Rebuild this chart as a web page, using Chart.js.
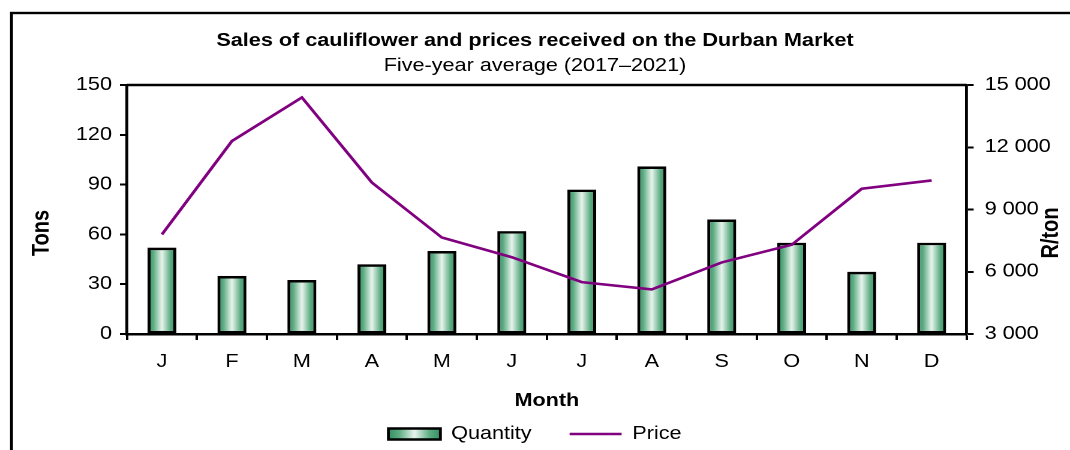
<!DOCTYPE html>
<html>
<head>
<meta charset="utf-8">
<script src="https://cdn.jsdelivr.net/npm/chart.js@4.4.0/dist/chart.umd.min.js"></script>
<style>
  html, body { margin: 0; padding: 0; background: #fff; overflow: hidden; }
</style>
</head>
<body>
<canvas id="grafico"></canvas>
<script>
// Datos (promedio de cinco años, 2017-2021)
const months = ['J', 'F', 'M', 'A', 'M', 'J', 'J', 'A', 'S', 'O', 'N', 'D'];
const quantity = [52, 35, 32.5, 42, 50, 62, 87, 101, 69, 55, 37.5, 55];
const price = [7800, 12300, 14400, 10300, 7650, 6700, 5500, 5150, 6450, 7300, 10000, 10400];
const tonsTicks = [0, 30, 60, 90, 120, 150];
const priceTicks = [3000, 6000, 9000, 12000, 15000];

// el original está estirado en horizontal, así que se dibuja más estrecho y se estira con CSS
const S = 1.2;
const W = Math.round(1070 / S);
const px = v => v / S;

const VERDE = '#378f63';
const MEDIO = '#5aab81';
const CLARO = '#e8f4ed';
const MORADO = '#800080';
const BAR_PCT = 0.414;
const LEG_FONT = 18;
const LEG_PAD = px(38);
const PAD_BOTTOM = 440 - 434 - LEG_FONT / 2;
const LEG_H = LEG_FONT + LEG_PAD + 10;
const X_HEIGHT = 450 - PAD_BOTTOM - LEG_H - 334;

Chart.defaults.font.family = '"Liberation Sans", Arial, sans-serif';
Chart.defaults.color = '#000';

function gradiente(c, x0, x1) {
    const g = c.createLinearGradient(x0, 0, x1, 0);
    g.addColorStop(0, VERDE);
    g.addColorStop(0.2, MEDIO);
    g.addColorStop(0.5, CLARO);
    g.addColorStop(0.8, MEDIO);
    g.addColorStop(1, VERDE);
    return g;
}

function rellenoBarra(context) {
    const chart = context.chart;
    const xs = chart.scales.x;
    if (context.type !== 'data' || !xs || !chart.chartArea) return VERDE;
    const cx = xs.getPixelForValue(context.dataIndex);
    const half = xs.width / months.length * BAR_PCT / 2;
    return gradiente(chart.ctx, cx - half, cx + half);
}

function formato(v) {
    return String(v).replace(/\B(?=(\d{3})+(?!\d))/g, ' ');
}

const marco = {
    id: 'marco',
    beforeDraw(chart) {
        const ctx = chart.ctx;
        ctx.save();
        ctx.fillStyle = '#fff';
        ctx.fillRect(0, 0, chart.width, chart.height);
        ctx.strokeStyle = '#000';
        ctx.lineWidth = 2.4;
        ctx.strokeRect(px(11.5), 13, chart.width + 40, chart.height + 40);
        ctx.restore();

        // la caja de la leyenda también lleva el degradado
        const lg = chart.legend;
        if (lg && lg.legendItems && lg.legendHitBoxes) {
            lg.legendItems.forEach((item, i) => {
                if (item.text === 'Quantity' && lg.legendHitBoxes[i]) {
                    const hb = lg.legendHitBoxes[i];
                    item.fillStyle = gradiente(ctx, hb.left, hb.left + px(52));
                }
            });
        }
    },
    afterDraw(chart) {
        const {ctx, chartArea} = chart;
        ctx.save();
        // borde superior del área del gráfico
        ctx.strokeStyle = '#000';
        ctx.lineWidth = 2.4;
        ctx.beginPath();
        ctx.moveTo(chartArea.left, chartArea.top);
        ctx.lineTo(chartArea.right, chartArea.top);
        ctx.stroke();

        // títulos de los ejes Y (ambos giran hacia arriba)
        ctx.fillStyle = '#000';
        ctx.font = 'bold 20px "Liberation Sans", Arial, sans-serif';
        ctx.textAlign = 'center';
        ctx.textBaseline = 'middle';
        [['Tons', px(42)], ['R/ton', px(1052)]].forEach(([txt, x]) => {
            ctx.save();
            ctx.translate(x, 233);
            ctx.rotate(-Math.PI / 2);
            ctx.fillText(txt, 0, 0);
            ctx.restore();
        });
        ctx.restore();
    }
};

const canvas = document.getElementById('grafico');
canvas.width = W;
canvas.height = 450;
canvas.style.display = 'block';
canvas.style.width = '1070px';
canvas.style.height = '450px';

new Chart(canvas.getContext('2d'), {
    data: {
        labels: months,
        datasets: [
            {
                type: 'bar',
                label: 'Quantity',
                data: quantity,
                yAxisID: 'y',
                backgroundColor: rellenoBarra,
                borderColor: '#000',
                borderWidth: 2.6,
                borderSkipped: false,
                categoryPercentage: 1,
                barPercentage: BAR_PCT,
                order: 1,
            },
            {
                type: 'line',
                label: 'Price',
                data: price,
                yAxisID: 'y1',
                borderColor: MORADO,
                borderWidth: 2.6,
                pointRadius: 0,
                fill: false,
                tension: 0,
                order: 0,
            },
        ],
    },
    options: {
        responsive: false,
        devicePixelRatio: 2,
        animation: false,
        layout: { padding: { left: 0, right: 0, top: 0, bottom: PAD_BOTTOM } },
        plugins: {
            tooltip: { enabled: false },
            title: {
                display: true,
                text: 'Sales of cauliflower and prices received on the Durban Market',
                color: '#000',
                font: { size: 18, weight: 'bold', lineHeight: 1.2 },
                padding: { top: 30.2, bottom: 0 },
            },
            subtitle: {
                display: true,
                text: 'Five-year average (2017\u20132021)',
                color: '#000',
                font: { size: 18, lineHeight: 1.2 },
                padding: { top: 3.4, bottom: 8.2 },
            },
            legend: {
                position: 'bottom',
                labels: {
                    usePointStyle: true,
                    pointStyleWidth: px(52),
                    boxHeight: 11,
                    padding: LEG_PAD,
                    color: '#000',
                    font: { size: LEG_FONT },
                    generateLabels(chart) {
                        const items = Chart.defaults.plugins.legend.labels.generateLabels(chart);
                        items.sort((a, b) => a.datasetIndex - b.datasetIndex);
                        items.forEach(it => {
                            if (it.text === 'Quantity') {
                                it.pointStyle = 'rect';
                                it.strokeStyle = '#000';
                                it.lineWidth = 2.4;
                            } else {
                                it.pointStyle = 'line';
                                it.strokeStyle = MORADO;
                                it.lineWidth = 2.6;
                            }
                        });
                        return items;
                    },
                },
            },
        },
        scales: {
            x: {
                offset: true,
                grid: { drawOnChartArea: false, drawTicks: true, tickLength: 6, tickWidth: 2, color: '#000', offset: true },
                border: { display: true, color: '#000', width: 2.5 },
                ticks: { color: '#000', font: { size: 18 }, padding: 11 },
                title: {
                    display: true,
                    text: 'Month',
                    color: '#000',
                    font: { size: 18, weight: 'bold', lineHeight: 1.2 },
                    padding: { top: 0, bottom: 450 - PAD_BOTTOM - LEG_H - 401 - 10.8 },
                },
                afterFit(scale) { scale.height = X_HEIGHT; },
            },
            y: {
                position: 'left',
                min: 0,
                max: 150,
                afterBuildTicks(axis) { axis.ticks = tonsTicks.map(v => ({ value: v })); },
                grid: { drawOnChartArea: false, tickLength: px(7), tickWidth: 2, color: '#000' },
                border: { display: true, color: '#000', width: 2.4 },
                ticks: { color: '#000', font: { size: 18 }, padding: px(8) },
                afterFit(scale) { scale.width = px(127); },
            },
            y1: {
                position: 'right',
                min: 3000,
                max: 15000,
                afterBuildTicks(axis) { axis.ticks = priceTicks.map(v => ({ value: v })); },
                grid: { drawOnChartArea: false, tickLength: px(7), tickWidth: 2, color: '#000' },
                border: { display: true, color: '#000', width: 2.4 },
                ticks: { color: '#000', font: { size: 18 }, padding: px(11), callback: v => formato(v) },
                afterFit(scale) { scale.width = W - px(967); },
            },
        },
    },
    plugins: [marco],
});
</script>
</body>
</html>
